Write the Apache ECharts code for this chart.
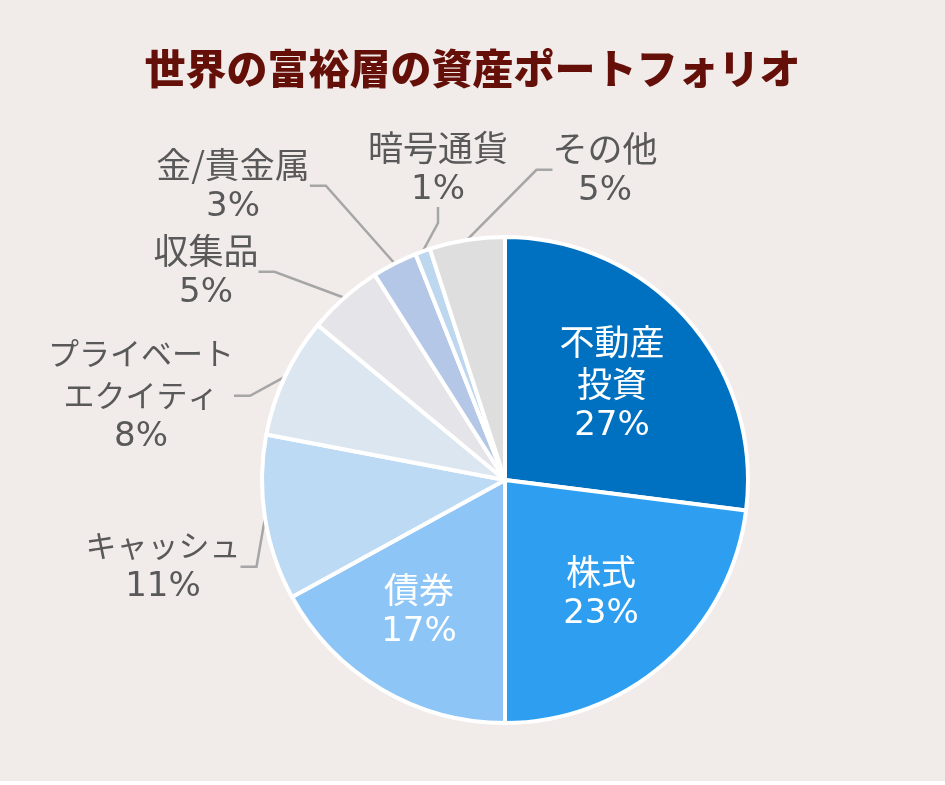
<!DOCTYPE html>
<html><head><meta charset="utf-8">
<script src="https://cdn.jsdelivr.net/npm/echarts@6/dist/echarts.min.js"></script>
<style>html,body{margin:0;padding:0;background:#ffffff;}#c{width:945px;height:781px;}</style>
</head><body><div id="c"></div>
<script>
const titleText = '世界の富裕層の資産ポートフォリオ';
const categories = ['不動産\n投資', '株式', '債券', 'キャッシュ', 'プライベート\nエクイティ', '収集品', '金/貴金属', '暗号通貨', 'その他'];
const values = [27, 23, 17, 11, 8, 5, 3, 1, 5];
const colors = ['#0070c0', '#2e9ff0', '#8dc5f6', '#bcdaf4', '#dce6f0', '#e4e4e9', '#b4c7e7', '#bdd7ee', '#dedede'];
const insideFlags = [true, true, true, false, false, false, false, false, false];
const kanaFlags = [false, false, false, true, true, false, false, false, false];
// label centre positions (layout only)
const labelPos = [[612, 384], [601, 593], [419, 611], [163, 566], [141, 395], [206, 272], [233, 186], [438, 169], [605, 170]];

const chart = echarts.init(document.getElementById('c'));
const cjk = '"Noto Sans CJK JP", sans-serif';
const num = '"DejaVu Sans", sans-serif';
function richFor(color) {
  return {
    n: { fontFamily: cjk, fontSize: 35, lineHeight: 42, color: color, align: 'center' },
    k: { fontFamily: cjk, fontSize: 31, lineHeight: 42, color: color, align: 'center' },
    p: { fontFamily: num, fontSize: 34, lineHeight: 42, color: color, align: 'center' }
  };
}
chart.setOption({
  backgroundColor: '#f1ebea',
  animation: false,
  title: {
    text: titleText, left: 'center', top: 43,
    textStyle: { fontFamily: cjk, fontSize: 41, fontWeight: 900, color: '#641008' }
  },
  series: [{
    type: 'pie',
    center: [505, 480],
    radius: [0, 243],
    startAngle: 90,
    clockwise: true,
    avoidLabelOverlap: false,
    itemStyle: { borderColor: '#ffffff', borderWidth: 4 },
    label: {
      show: true, position: 'outside',
      formatter: function (p) {
        const tag = kanaFlags[p.dataIndex] ? 'k' : 'n';
        return p.name.split('\n').map(s => '{' + tag + '|' + s + '}').join('\n') + '\n{p|' + p.value + '%}';
      },
      color: '#595959', align: 'center', rich: richFor('#595959')
    },
    labelLine: { show: true, length: 20, length2: 16, lineStyle: { color: '#a6a6a6', width: 2.5 } },
    labelLayout: function (p) {
      const pos = labelPos[p.dataIndex];
      return { x: pos[0], y: pos[1], align: 'center', verticalAlign: 'middle' };
    },
    data: categories.map((n, i) => ({
      name: n, value: values[i], itemStyle: { color: colors[i] },
      label: insideFlags[i] ? { position: 'inside', color: '#ffffff', rich: richFor('#ffffff') } : {},
      labelLine: insideFlags[i] ? { show: false } : {}
    }))
  }]
});
</script></body></html>
